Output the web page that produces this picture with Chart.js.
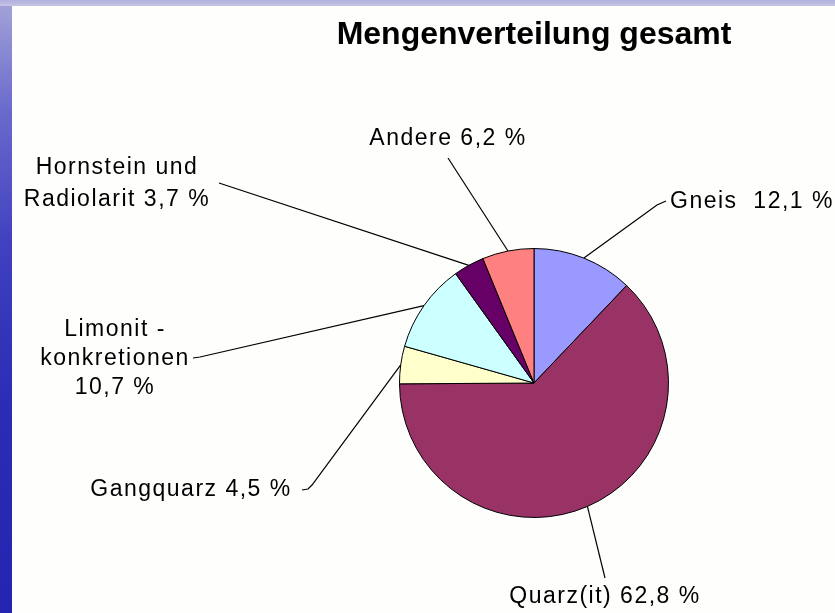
<!DOCTYPE html>
<html>
<head>
<meta charset="utf-8">
<script src="https://cdn.jsdelivr.net/npm/chart.js@4.4.1/dist/chart.umd.min.js"></script>
<style>
  html,body{margin:0;padding:0;width:835px;height:613px;overflow:hidden;background:#fefefd;}
  #wrap{position:absolute;left:0;top:0;width:835px;height:613px;}
  #leftbar{position:absolute;left:0;top:0;width:12px;height:613px;
    background:linear-gradient(to bottom,#a4a4d8 0%,#6a6acc 18%,#4040c0 40%,#2c2cb6 65%,#2424b0 100%);}
  #topbar{position:absolute;left:0;top:0;width:835px;height:6px;
    background:linear-gradient(to bottom,#b0b0dc,#c4c4e6);}
  canvas{position:absolute;left:0;top:0;}
</style>
</head>
<body>
<div id="wrap">
  <div id="leftbar"></div>
  <div id="topbar"></div>
  <canvas id="c" width="835" height="613"></canvas>
</div>
<script>
// ---- data ----
const chartTitle = 'Mengenverteilung gesamt';
const categories = ['Gneis', 'Quarz(it)', 'Gangquarz', 'Limonit - konkretionen', 'Hornstein und Radiolarit', 'Andere'];
const values = [12.1, 62.8, 4.5, 10.7, 3.7, 6.2];
const sliceColors = ['#9999ff', '#993366', '#ffffcc', '#ccffff', '#660066', '#ff8080'];

const fmt = v => v.toFixed(1).replace('.', ',') + ' %';
const labelTexts = [
  ['Gneis  ' + fmt(values[0])],
  ['Quarz(it) ' + fmt(values[1])],
  ['Gangquarz ' + fmt(values[2])],
  ['Limonit -', 'konkretionen', fmt(values[3])],
  ['Hornstein und', 'Radiolarit ' + fmt(values[4])],
  ['Andere ' + fmt(values[5])]
];

// label layout, offsets from pie centre (px)
const labelLayout = [
  {align: 'left',   tx: 136,  ty: -181, pts: [[123, -178], [132, -182]]},
  {align: 'center', tx: 71,   ty: 214,  pts: [[71, 195]]},
  {align: 'center', tx: -343, ty: 107,  pts: [[-222, 102], [-226, 106], [-232, 107]]},
  {align: 'center', tx: -419, ty: -53,  pts: [[-334, -26], [-341, -25]], lineGap: 29},
  {align: 'center', tx: -417, ty: -215, pts: [[-315, -200]], lineGap: 32},
  {align: 'center', tx: -86,  ty: -244, pts: [[-86, -225]]}
];

const labelPlugin = {
  id: 'labelPlugin',
  afterDraw(chart) {
    const ctx = chart.ctx;
    const meta = chart.getDatasetMeta(0);
    const first = meta.data[0];
    const cx = first.x, cy = first.y;
    ctx.save();
    // title
    ctx.fillStyle = '#000';
    ctx.font = 'bold 32px "Liberation Sans", Arial, sans-serif';
    ctx.textAlign = 'center';
    ctx.textBaseline = 'middle';
    ctx.fillText(chartTitle, cx, 35);

    ctx.font = '23px "Liberation Sans", Arial, sans-serif';
    try { ctx.letterSpacing = '1.5px'; } catch (e) {}
    meta.data.forEach((arc, i) => {
      const lay = labelLayout[i];
      const mid = (arc.startAngle + arc.endAngle) / 2;
      const r = arc.outerRadius;
      ctx.beginPath();
      ctx.strokeStyle = '#000';
      ctx.lineWidth = 1.2;
      ctx.moveTo(cx + Math.cos(mid) * r, cy + Math.sin(mid) * r);
      lay.pts.forEach(p => ctx.lineTo(cx + p[0], cy + p[1]));
      ctx.stroke();
      ctx.textAlign = lay.align;
      const gap = lay.lineGap || 30;
      labelTexts[i].forEach((t, k) => {
        ctx.fillText(t, cx + lay.tx, cy + lay.ty + k * gap);
      });
    });
    ctx.restore();
  }
};

new Chart(document.getElementById('c'), {
  type: 'pie',
  data: {
    labels: categories,
    datasets: [{
      data: values,
      backgroundColor: sliceColors,
      borderColor: '#000',
      borderWidth: 1
    }]
  },
  options: {
    responsive: false,
    animation: false,
    layout: {padding: {left: 399, right: 166, top: 248, bottom: 95}},
    plugins: {legend: {display: false}, tooltip: {enabled: false}, title: {display: false}}
  },
  plugins: [labelPlugin]
});
</script>
</body>
</html>
